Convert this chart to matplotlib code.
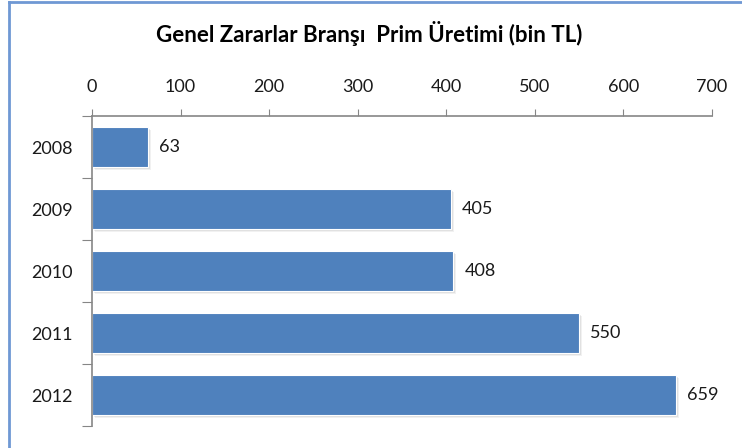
import matplotlib
matplotlib.use("Agg")
import matplotlib.pyplot as plt
import matplotlib.transforms as mtransforms
from matplotlib.lines import Line2D
import numpy as np

years = ["2008", "2009", "2010", "2011", "2012"]
values = [63, 405, 408, 550, 659]
xticks = [0, 100, 200, 300, 400, 500, 600, 700]
title = "Genel Zararlar Branşı  Prim Üretimi (bin TL)"

plt.rcParams['font.family'] = ['Lato', 'DejaVu Sans']

fig = plt.figure(figsize=(7.42, 4.48), dpi=100)
ax = fig.add_axes([92/742, 1-426/448, (712-92)/742, (426-116)/448])

pos = np.arange(len(years))
bar_h = 0.65
# shadows
for k, (dx, dy, a) in enumerate([(3, -3, 0.10), (2, -2, 0.15), (1, -1, 0.2)]):
    tr = mtransforms.offset_copy(ax.transData, fig=fig, x=dx, y=dy, units='dots')
    ax.barh(pos, values, height=bar_h, color='#7f7f7f', alpha=a, transform=tr, zorder=1, linewidth=0)
ax.barh(pos, values, height=bar_h, color='#4F81BD', edgecolor='white', linewidth=0.8, zorder=2)

for p, v in zip(pos, values):
    tr = mtransforms.offset_copy(ax.transData, fig=fig, x=11, y=0, units='dots')
    ax.text(v, p, str(v), transform=tr, va='center', ha='left', fontsize=13, color='#1a1a1a')

ax.set_xlim(0, 700)
ax.set_ylim(len(years) - 0.5, -0.5)
ax.xaxis.tick_top()
ax.set_xticks(xticks)
ax.set_xticklabels([str(t) for t in xticks], fontsize=13)
ax.tick_params(axis='x', direction='out', length=5, pad=10, color='#868686', labelcolor='#1a1a1a')

ax.set_yticks(np.arange(len(years) + 1) - 0.5)
ax.set_yticklabels([])
ax.tick_params(axis='y', which='major', direction='out', length=7, color='#868686')
ax.set_yticks(pos, minor=True)
ax.set_yticklabels(years, minor=True, fontsize=13)
ax.tick_params(axis='y', which='minor', length=0, pad=14, labelcolor='#1a1a1a')

for s in ['right', 'bottom']:
    ax.spines[s].set_visible(False)
for s in ['top', 'left']:
    ax.spines[s].set_color('#868686')
    ax.spines[s].set_linewidth(1.2)

fig.text(369/742, 1-33/448, title, ha='center', va='center', fontsize=16, fontweight='bold', color='#000000')

# figure border (left and top visible)
fig.add_artist(Line2D([9/742, 9/742], [0, 1-2/448], transform=fig.transFigure, color='#6f98d4', linewidth=2))
fig.add_artist(Line2D([9/742, 1], [1-2/448, 1-2/448], transform=fig.transFigure, color='#6f98d4', linewidth=2))

fig.savefig("out.png", dpi=100)
